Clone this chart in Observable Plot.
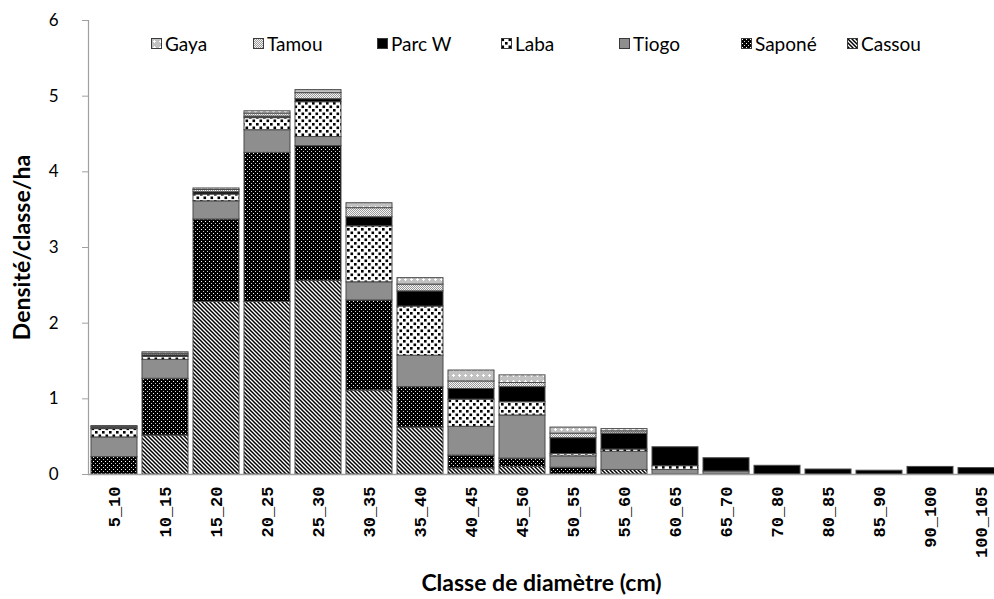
<!DOCTYPE html>
<html>
<head>
<meta charset="utf-8">
<script src="https://cdn.jsdelivr.net/npm/d3@7"></script>
<script src="https://cdn.jsdelivr.net/npm/@observablehq/plot@0.6"></script>
<style>
  html, body { margin: 0; padding: 0; background: #fff; overflow: hidden; }
  #wrap { position: relative; width: 994px; height: 599px; }
  #legend { position: absolute; top: 0; left: 0; width: 994px; height: 60px;
            font-family: Lato, sans-serif; font-size: 19px; color: #000; }
  #legend .item { position: absolute; top: 32px; display: flex; align-items: center; gap: 3px; white-space: nowrap; }
  #legend svg { display: block; }
</style>
</head>
<body>
<svg width="0" height="0" style="position:absolute">
  <defs>
    <pattern id="p-cassou" patternUnits="userSpaceOnUse" width="4" height="4">
      <rect width="4" height="4" fill="#fff"/>
      <path d="M-1,-1 L5,5 M-1,3 L1,5 M3,-1 L5,1" stroke="#000" stroke-width="1.5"/>
    </pattern>
    <pattern id="p-sapone" patternUnits="userSpaceOnUse" width="4" height="4">
      <rect width="4" height="4" fill="#000"/>
      <rect x="1" y="1" width="1" height="1" fill="#fff"/>
      <rect x="3" y="3" width="1" height="1" fill="#ccc"/>
    </pattern>
    <pattern id="p-tiogo" patternUnits="userSpaceOnUse" width="4" height="4">
      <rect width="4" height="4" fill="#8e8e8e"/>
    </pattern>
    <pattern id="p-laba" patternUnits="userSpaceOnUse" width="7" height="7">
      <rect width="7" height="7" fill="#fff"/>
      <rect x="0.5" y="0.5" width="2.6" height="2.6" fill="#000"/>
      <rect x="4" y="4" width="2.6" height="2.6" fill="#000"/>
    </pattern>
    <pattern id="p-parcw" patternUnits="userSpaceOnUse" width="4" height="4">
      <rect width="4" height="4" fill="#000"/>
    </pattern>
    <pattern id="p-tamou" patternUnits="userSpaceOnUse" width="2" height="2">
      <rect width="2" height="2" fill="#f4f4f4"/>
      <rect x="0" y="0" width="1" height="1" fill="#9a9a9a"/>
      <rect x="1" y="1" width="1" height="1" fill="#9a9a9a"/>
    </pattern>
    <pattern id="p-gaya" patternUnits="userSpaceOnUse" width="6" height="6">
      <rect width="6" height="6" fill="#c2c2c2"/>
      <rect x="2" y="3" width="3" height="1" fill="#fff"/>
      <rect x="3" y="2" width="1" height="3" fill="#fff"/>
    </pattern>
  </defs>
</svg>
<div id="wrap">
  <div id="chart"></div>
  <div id="legend"></div>
</div>
<script>
// ---- data ----
const classes = ["5_10","10_15","15_20","20_25","25_30","30_35","35_40","40_45","45_50","50_55","55_60","60_65","65_70","70_80","80_85","85_90","90_100","100_105"];

// stacked from bottom to top
const seriesNames = ["Cassou", "Saponé", "Tiogo", "Laba", "Parc W", "Tamou", "Gaya"];
const legendOrder = ["Gaya", "Tamou", "Parc W", "Laba", "Tiogo", "Saponé", "Cassou"];

const cassou = [0, 0.515, 2.28, 2.28, 2.56, 1.11, 0.62, 0.08, 0.10, 0, 0.06, 0, 0, 0, 0, 0, 0, 0];
const sapone = [0.23, 0.75, 1.09, 1.97, 1.78, 1.19, 0.535, 0.17, 0.11, 0.09, 0, 0, 0, 0, 0, 0, 0, 0];
const tiogo  = [0.26, 0.25, 0.24, 0.30, 0.12, 0.24, 0.415, 0.38, 0.57, 0.15, 0.24, 0.06, 0.04, 0, 0, 0, 0, 0];
const laba   = [0.11, 0.04, 0.09, 0.16, 0.46, 0.74, 0.65, 0.36, 0.175, 0.03, 0.03, 0.05, 0, 0, 0, 0, 0, 0];
const parcW  = [0.02, 0.02, 0.03, 0.02, 0.04, 0.12, 0.20, 0.14, 0.20, 0.21, 0.21, 0.25, 0.175, 0.115, 0.066, 0.05, 0.10, 0.085];
const tamou  = [0.01, 0.02, 0.03, 0.04, 0.08, 0.12, 0.09, 0.10, 0.055, 0.06, 0.03, 0, 0, 0, 0, 0, 0, 0];
const gaya   = [0.01, 0.02, 0.02, 0.03, 0.04, 0.065, 0.085, 0.144, 0.10, 0.08, 0.03, 0, 0, 0, 0, 0, 0, 0];

const yTicks = [0, 1, 2, 3, 4, 5, 6];
const xTitle = "Classe de diamètre (cm)";
const yTitle = "Densité/classe/ha";

// ---- build table ----
const valuesBySeries = {"Cassou": cassou, "Saponé": sapone, "Tiogo": tiogo, "Laba": laba, "Parc W": parcW, "Tamou": tamou, "Gaya": gaya};
const patternIds = {"Cassou": "p-cassou", "Saponé": "p-sapone", "Tiogo": "p-tiogo", "Laba": "p-laba", "Parc W": "p-parcw", "Tamou": "p-tamou", "Gaya": "p-gaya"};

const rows = [];
classes.forEach((c, i) => {
  seriesNames.forEach(s => {
    const v = valuesBySeries[s][i];
    if (v > 0) rows.push({classe: c, serie: s, value: v});
  });
});

const chart = Plot.plot({
  width: 994,
  height: 599,
  marginLeft: 88,
  marginRight: 0,
  marginTop: 20,
  marginBottom: 125,
  style: {background: "#fff", color: "#000", fontFamily: "Lato, sans-serif"},
  x: {domain: classes, range: [88, 1007], paddingInner: 0.1, paddingOuter: 0.05},
  y: {domain: [0, 6]},
  color: {type: "ordinal", domain: seriesNames, range: seriesNames.map(s => `url(#${patternIds[s]})`)},
  marks: [
    Plot.barY(rows, {x: "classe", y: "value", fill: "serie", stroke: "#4a4a4a", strokeWidth: 1}),
    Plot.ruleY([0], {stroke: "#a0a0a0", strokeWidth: 1.5}),
    Plot.frame({anchor: "left", stroke: "#a0a0a0", strokeWidth: 1.2}),
    Plot.axisY({ticks: yTicks, tickSize: 6, tickPadding: 24, stroke: "#a0a0a0", fill: "#000",
                fontSize: 17, fontFamily: "Lato, sans-serif", tickFormat: d => String(d), label: null}),
    Plot.axisX({tickSize: 0, tickRotate: -90, tickPadding: 12, fill: "#000", label: null,
                fontSize: 17, fontFamily: "Liberation Mono, monospace", fontWeight: "bold"}),
    Plot.text([xTitle], {frameAnchor: "bottom", dy: 109, lineAnchor: "middle", textAnchor: "middle",
                         fontSize: 23, fontWeight: "bold", fontFamily: "Lato, sans-serif", fill: "#000"}),
    Plot.text([yTitle], {frameAnchor: "left", dx: -66, rotate: -90, textAnchor: "middle", lineAnchor: "middle",
                         fontSize: 23, fontWeight: "bold", fontFamily: "Lato, sans-serif", fill: "#000"})
  ]
});
document.getElementById("chart").appendChild(chart);

// ---- legend (inside the plot area, top) ----
const legendLeft = [151, 253, 377, 501, 619, 741, 847];
const legend = d3.select("#legend");
legendOrder.forEach((s, i) => {
  const item = legend.append("div").attr("class", "item").style("left", legendLeft[i] + "px");
  const svg = item.append("svg").attr("width", 11).attr("height", 11);
  svg.append("rect").attr("x", 0.5).attr("y", 0.5).attr("width", 10).attr("height", 10)
     .attr("fill", `url(#${patternIds[s]})`).attr("stroke", "#3a3a3a").attr("stroke-width", 1);
  item.append("span").text(s);
});
</script>
</body>
</html>
